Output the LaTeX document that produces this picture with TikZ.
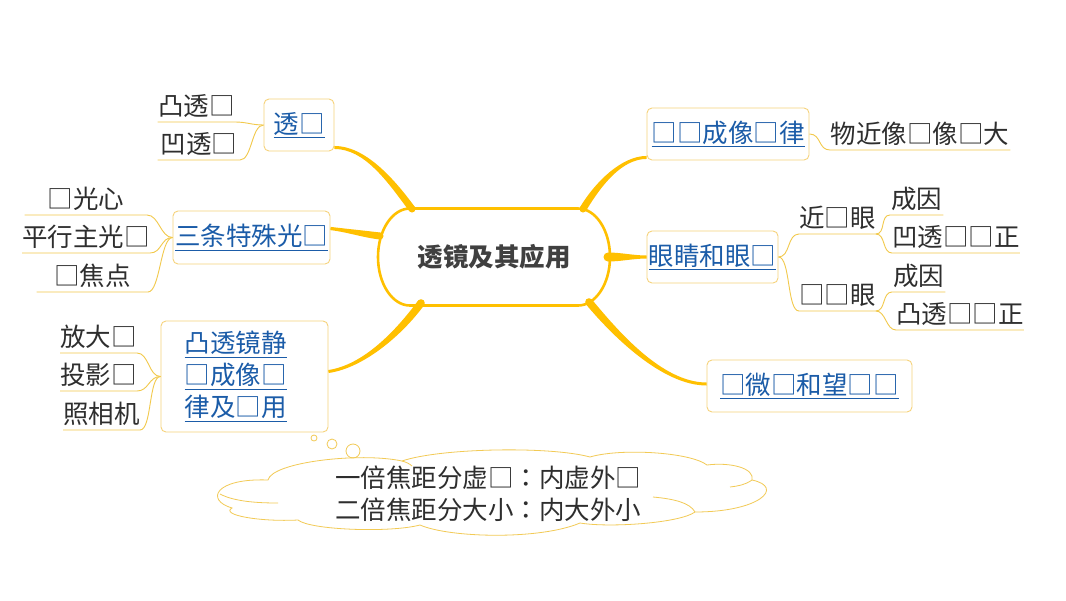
\documentclass[tikz,border=0pt]{standalone}
\usepackage{fontspec}
\setmainfont{Noto Sans CJK SC}
\newfontfamily\tcfont{Noto Sans CJK TC}
\usetikzlibrary{calc}
\definecolor{mainY}{HTML}{FFC000}
\definecolor{boxY}{HTML}{F6D37C}
\definecolor{leafY}{HTML}{F2C94C}
\definecolor{cloudY}{HTML}{F2CA55}
\definecolor{linkB}{HTML}{1B5CA8}
\definecolor{txt}{HTML}{2E2E2E}
\definecolor{ttl}{HTML}{404040}
\newcommand\myul[1]{\leavevmode\setbox0=\hbox{#1}\rlap{\rule[-5pt]{\wd0}{1.2pt}}\box0}
\newcommand\taper[6]{%
  \coordinate (tpl) at ($(#1)!#5!90:(#2)$);
  \coordinate (tpr) at ($(#1)!#5!-90:(#2)$);
  \coordinate (tql) at ($(#4)!#6!-90:(#3)$);
  \coordinate (tqr) at ($(#4)!#6!90:(#3)$);
  \fill[mainY] (tpl) .. controls ($(#2)+(tpl)-(#1)$) and ($(#3)+(tql)-(#4)$) .. (tql) -- (tqr) .. controls ($(#3)+(tqr)-(#4)$) and ($(#2)+(tpr)-(#1)$) .. (tpr) -- cycle;
  \fill[mainY] (#4) circle[radius=#6];
}
\tikzset{
  box/.style={draw=boxY, line width=0.9pt, rounded corners=5pt, fill=white, text=linkB, inner sep=0pt},
  leaf/.style={text=txt, inner xsep=0pt, inner ysep=0pt, text height=20pt, text depth=6pt},
  leafline/.style={draw=leafY, line width=0.9pt},
  cloudline/.style={draw=cloudY, line width=0.8pt},
}
\begin{document}
\begin{tikzpicture}[x=1pt, y=-1pt, font=\fontsize{25.5}{32}\selectfont]
\useasboundingbox (0,0) rectangle (1066,600);
\fill[white] (0,0) rectangle (1066,600);

% central node
\node[text=ttl, font=\fontsize{25.5}{32}\selectfont\bfseries] (c) at (494,257) {透镜及其应用};
\draw[mainY, line width=2.6pt] ($(c.center)+(-84,-48.5)$) -- ($(c.center)+(84,-48.5)$)
  arc[start angle=90, end angle=-90, x radius=32pt, y radius=48.5pt]
  -- ($(c.center)+(-84,48.5)$)
  arc[start angle=270, end angle=90, x radius=32pt, y radius=48.5pt] -- cycle;

% branch boxes
\node[box, minimum width=70pt, minimum height=52pt] (b1) at (299,125) {\myul{透□}};
\node[box, minimum width=157pt, minimum height=53pt] (b2) at (251.5,237.5) {\myul{三条特殊光□}};
\node[box, minimum width=167pt, minimum height=111pt, text width=120pt, align=left] (b3) at (244.5,376.5) {\myul{凸透镜静}\\\myul{□成像□}\\\myul{律及□用}};
\node[box, minimum width=162pt, minimum height=52pt] (b4) at (728,134) {\myul{□□成像□律}};
\node[box, minimum width=131pt, minimum height=52pt] (b5) at (712.5,257) {\myul{眼睛和眼□}};
\node[box, minimum width=205pt, minimum height=52pt] (b6) at (809.5,386) {\myul{□微□和望□□}};

% main connectors
\coordinate (m1s) at ($(b1.south east)+(0,-4)$);
\coordinate (m1a) at ($(m1s)+(30,0)$);
\coordinate (m1e) at ($(c.center)+(-82,-48)$);
\coordinate (m1b) at ($(m1e)+(-22,-30)$);
\taper{m1s}{m1a}{m1b}{m1e}{1.5pt}{3.5pt}

\coordinate (m2s) at ($(b2.east)+(0,-9)$);
\coordinate (m2e) at ($(c.center)+(-114,-21)$);
\coordinate (m2a) at ($(m2s)+(17,2)$);
\coordinate (m2b) at ($(m2e)+(-17,-2)$);
\taper{m2s}{m2a}{m2b}{m2e}{1.6pt}{3.5pt}

\coordinate (m3s) at ($(b3.east)+(0,-5)$);
\coordinate (m3e) at ($(c.center)+(-73,46)$);
\coordinate (m3a) at ($(m3s)+(35,-5)$);
\coordinate (m3b) at ($(m3e)+(-22,30)$);
\taper{m3s}{m3a}{m3b}{m3e}{1.5pt}{3.8pt}

\coordinate (m4s) at ($(b4.south west)+(0,-3)$);
\coordinate (m4e) at ($(c.center)+(89,-48)$);
\coordinate (m4a) at ($(m4s)+(-25,0)$);
\coordinate (m4b) at ($(m4e)+(15,-25)$);
\taper{m4s}{m4a}{m4b}{m4e}{1.5pt}{3.5pt}

\coordinate (m5s) at (b5.west);
\coordinate (m5e) at ($(c.center)+(114,0)$);
\coordinate (m5a) at ($(m5s)+(-13,0)$);
\coordinate (m5b) at ($(m5e)+(13,0)$);
\taper{m5s}{m5a}{m5b}{m5e}{1.5pt}{4.5pt}

\coordinate (m6s) at ($(b6.west)+(0,-2)$);
\coordinate (m6e) at ($(c.center)+(95,45)$);
\coordinate (m6a) at ($(m6s)+(-45,0)$);
\coordinate (m6b) at ($(m6e)+(25,30)$);
\taper{m6s}{m6a}{m6b}{m6e}{1.5pt}{3.8pt}

% leaves left
\node[leaf, minimum width=77pt, anchor=south east] (l11) at (235,122) {凸透□};
\node[leaf, minimum width=82pt, anchor=south east] (l12) at (240,160) {凹透□};
\node[leaf, minimum width=122pt, anchor=south east] (l21) at (147,215) {□光心};
\node[leaf, minimum width=113pt, anchor=south east] (l22) at (150,253) {平行主光□};
\node[leaf, minimum width=111pt, anchor=south east] (l23) at (148,292) {□焦点};
\node[leaf, anchor=south east] (l31) at (137,353) {放大□};
\node[leaf, anchor=south east] (l32) at (137,391) {投影□};
\node[leaf, anchor=south east] (l33) at (140,430) {照相机};
\foreach \p/\l in {b1/l11,b1/l12,b2/l21,b2/l22,b2/l23,b3/l31,b3/l32,b3/l33}{
  \draw[leafline] (\p.west) .. controls +(-12,0) and +(12,0) .. (\l.south east) -- (\l.south west);
}

% leaves right
\node[leaf, minimum width=180pt, anchor=south west] (l41) at (830,150) {物近像□像□大};
\node[leaf, anchor=south west] (l51) at (799,234) {近□眼};
\node[leaf, minimum width=53pt, anchor=south west] (l511) at (890,215) {成因};
\node[leaf, anchor=south west] (l512) at (892,253) {凹透□□正};
\node[leaf, anchor=south west] (l52) at (799,311) {□□眼};
\node[leaf, minimum width=53pt, anchor=south west] (l521) at (892,292) {成因};
\node[leaf, anchor=south west] (l522) at (896,330) {凸透□□正};
\foreach \p/\l in {b4/l41,b5/l51,b5/l52}{
  \draw[leafline] (\p.east) .. controls +(12,0) and +(-12,0) .. (\l.south west) -- (\l.south east);
}
\foreach \p/\l in {l51/l511,l51/l512,l52/l521,l52/l522}{
  \draw[leafline] (\p.south east) .. controls +(10,0) and +(-10,0) .. (\l.south west) -- (\l.south east);
}

% cloud
\draw[cloudline] (268,480) .. controls (272,462) and (360,452) .. (402,461)
  .. controls (440,448) and (550,446) .. (590,457)
  .. controls (620,448) and (690,452) .. (707,465)
  .. controls (730,462) and (755,468) .. (752,480)
  .. controls (785,487) and (760,512) .. (695,512)
  .. controls (680,523) and (610,528) .. (580,523)
  .. controls (540,540) and (450,538) .. (420,525)
  .. controls (390,533) and (310,530) .. (298,520)
  .. controls (260,522) and (220,515) .. (232,508)
  .. controls (205,500) and (215,478) .. (268,480) -- cycle;
\draw[cloudline] (220,494) .. controls (235,502) and (260,503) .. (278,503);
\draw[cloudline] (653,497) .. controls (675,499) and (690,503) .. (695,512);
\draw[cloudline] (752,480) .. controls (745,485) and (738,486) .. (730,487);
\draw[cloudline] (402,461) .. controls (406,462) and (410,464) .. (412,466);
\draw[cloudline] (314,438) circle[radius=3pt];
\draw[cloudline] (332,444) circle[radius=5pt];
\draw[cloudline] (353,451) circle[radius=7pt];
\node[text=txt, align=center] (cl) at (488,494) {一倍焦距分虚□{\tcfont ：}内虚外□\\二倍焦距分大小{\tcfont ：}内大外小};
\end{tikzpicture}
\end{document}
